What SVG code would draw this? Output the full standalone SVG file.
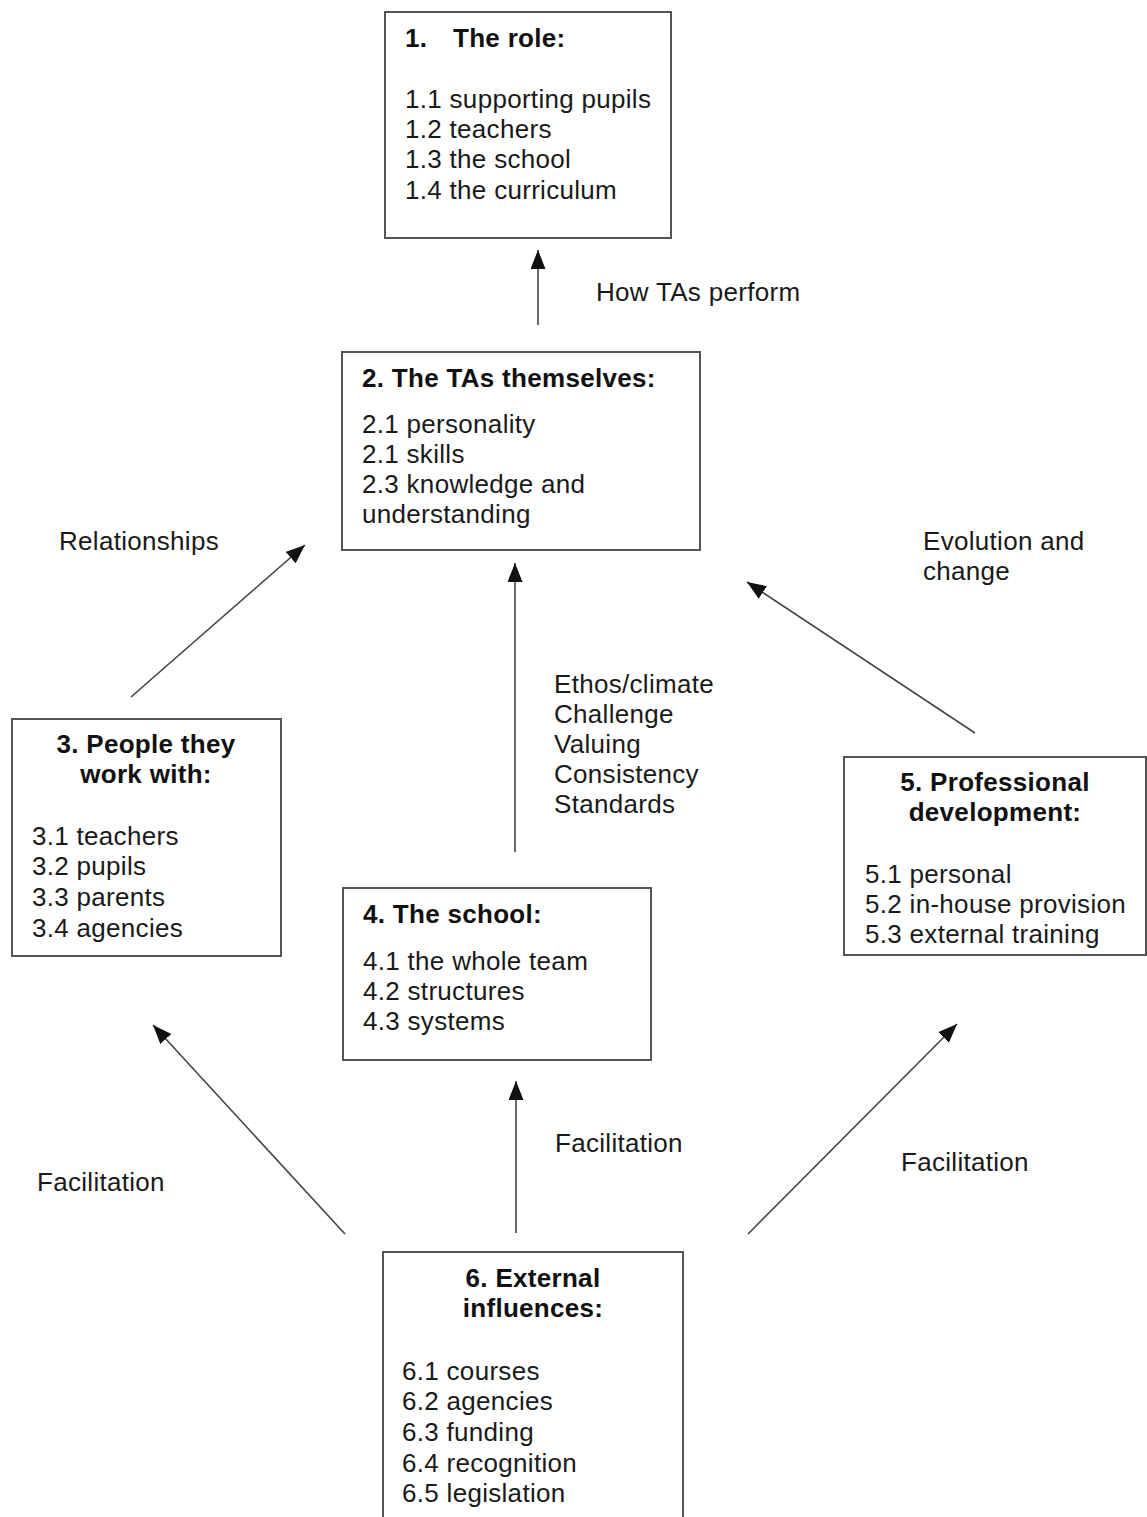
<svg xmlns="http://www.w3.org/2000/svg" width="1147" height="1517" viewBox="0 0 1147 1517">
  <defs>
    <marker id="arrow" markerUnits="userSpaceOnUse" markerWidth="20" markerHeight="16" refX="19" refY="7.5" orient="auto">
      <path d="M0,0 L19,7.5 L0,15 z" fill="#111"/>
    </marker>
    <style>
      .box { fill: #fff; stroke: #555; stroke-width: 2; }
      text { font-family: "Liberation Sans", Arial, sans-serif; font-size: 26px; fill: #1a1a1a; letter-spacing: 0.3px; }
      .h { font-weight: bold; fill: #111; }
      .mid { text-anchor: middle; }
      .conn { stroke: #444; stroke-width: 1.6; fill: none; marker-end: url(#arrow); }
    </style>
  </defs>

  <rect width="1147" height="1517" fill="#fff"/>

  <!-- connectors -->
  <g id="connectors">
    <line class="conn" x1="538" y1="325" x2="538" y2="250"/>
    <line class="conn" x1="131" y1="697" x2="305" y2="545"/>
    <line class="conn" x1="515" y1="852" x2="515" y2="563"/>
    <line class="conn" x1="975" y1="733" x2="747" y2="582"/>
    <line class="conn" x1="345" y1="1234" x2="153" y2="1025"/>
    <line class="conn" x1="516" y1="1233" x2="516" y2="1081"/>
    <line class="conn" x1="748" y1="1234" x2="957" y2="1024"/>
  </g>

  <!-- connector labels -->
  <g id="labels">
    <text x="596" y="301">How TAs perform</text>
    <text x="59" y="550">Relationships</text>
    <text x="923" y="550">Evolution and</text>
    <text x="923" y="580">change</text>
    <text x="554" y="693">Ethos/climate</text>
    <text x="554" y="723">Challenge</text>
    <text x="554" y="753">Valuing</text>
    <text x="554" y="783">Consistency</text>
    <text x="554" y="813">Standards</text>
    <text x="37" y="1191">Facilitation</text>
    <text x="555" y="1152">Facilitation</text>
    <text x="901" y="1171">Facilitation</text>
  </g>

  <!-- 1. The role -->
  <g id="node-role">
    <rect class="box" x="385" y="12" width="286" height="226"/>
    <text class="h" x="405" y="47">1.<tspan x="453">The role:</tspan></text>
    <text x="405" y="108">1.1 supporting pupils</text>
    <text x="405" y="138">1.2 teachers</text>
    <text x="405" y="168">1.3 the school</text>
    <text x="405" y="199">1.4 the curriculum</text>
  </g>

  <!-- 2. The TAs themselves -->
  <g id="node-tas">
    <rect class="box" x="342" y="352" width="358" height="198"/>
    <text class="h" x="362" y="387">2. The TAs themselves:</text>
    <text x="362" y="433">2.1 personality</text>
    <text x="362" y="463">2.1 skills</text>
    <text x="362" y="493">2.3 knowledge and</text>
    <text x="362" y="523">understanding</text>
  </g>

  <!-- 3. People they work with -->
  <g id="node-people">
    <rect class="box" x="12" y="719" width="269" height="237"/>
    <text class="h mid" x="146" y="753">3. People they</text>
    <text class="h mid" x="146" y="783">work with:</text>
    <text x="32" y="845">3.1 teachers</text>
    <text x="32" y="875">3.2 pupils</text>
    <text x="32" y="906">3.3 parents</text>
    <text x="32" y="937">3.4 agencies</text>
  </g>

  <!-- 4. The school -->
  <g id="node-school">
    <rect class="box" x="343" y="888" width="308" height="172"/>
    <text class="h" x="363" y="923">4. The school:</text>
    <text x="363" y="970">4.1 the whole team</text>
    <text x="363" y="1000">4.2 structures</text>
    <text x="363" y="1030">4.3 systems</text>
  </g>

  <!-- 5. Professional development -->
  <g id="node-development">
    <rect class="box" x="844" y="757" width="302" height="198"/>
    <text class="h mid" x="995" y="791">5. Professional</text>
    <text class="h mid" x="995" y="821">development:</text>
    <text x="865" y="883">5.1 personal</text>
    <text x="865" y="913">5.2 in-house provision</text>
    <text x="865" y="943">5.3 external training</text>
  </g>

  <!-- 6. External influences -->
  <g id="node-external">
    <rect class="box" x="383" y="1252" width="300" height="300"/>
    <text class="h mid" x="533" y="1287">6. External</text>
    <text class="h mid" x="533" y="1317">influences:</text>
    <text x="402" y="1380">6.1 courses</text>
    <text x="402" y="1410">6.2 agencies</text>
    <text x="402" y="1441">6.3 funding</text>
    <text x="402" y="1472">6.4 recognition</text>
    <text x="402" y="1502">6.5 legislation</text>
  </g>
</svg>
